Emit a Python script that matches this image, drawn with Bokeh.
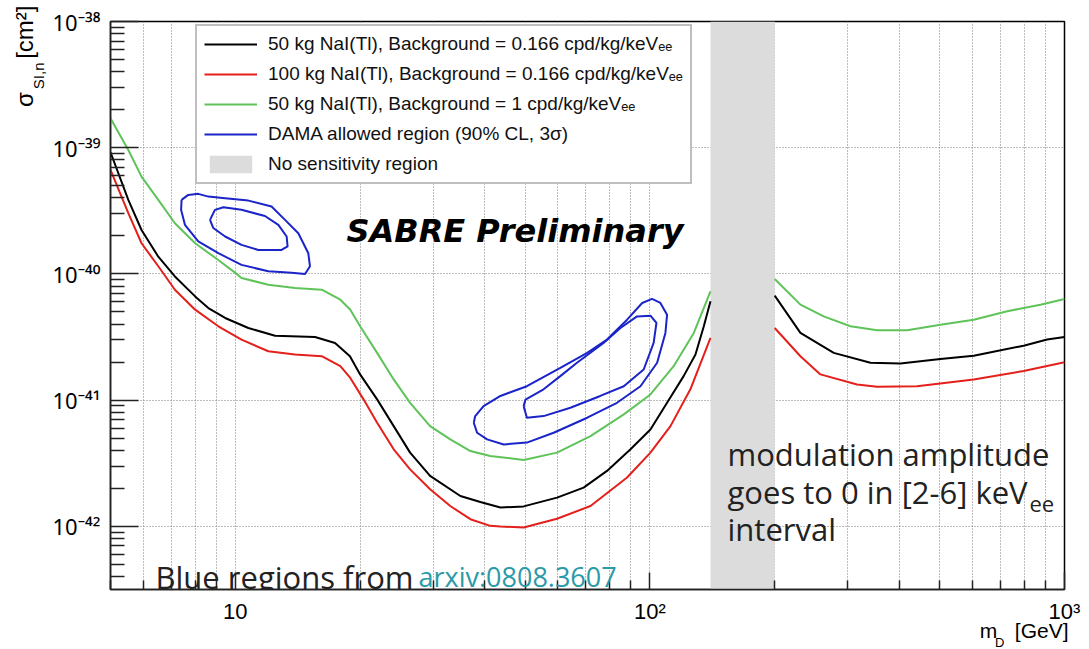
import math
from bokeh.plotting import figure
from bokeh.models import (Range1d, FixedTicker, CustomJSTickFormatter, Legend,
                          LegendItem, Label, Title)
from bokeh.embed import file_html
from bokeh.resources import INLINE

# ---------------- data ----------------
# 50 kg NaI(Tl), background 0.166 cpd/kg/keVee
black_x_lo = [5.0, 5.52, 5.94, 6.52, 7.15, 8.0, 8.61, 9.45, 10.75, 12.47, 15.57, 17.4, 18.9,
              20.0, 22.0, 24.1, 26.4, 29.5, 34.9, 39.0, 43.6, 49.6, 59.7, 69.2, 78.8, 89.8,
              100.3, 110, 120.6, 128.8, 134.9, 140]
black_y_lo = [9.2e-40, 3.86e-40, 2.23e-40, 1.37e-40, 9.55e-41, 6.64e-41, 5.37e-41, 4.48e-41,
              3.73e-41, 3.24e-41, 3.17e-41, 2.84e-41, 2.23e-41, 1.60e-41, 1.01e-41, 6.23e-42,
              3.84e-42, 2.51e-42, 1.74e-42, 1.56e-42, 1.41e-42, 1.44e-42, 1.69e-42, 2.03e-42,
              2.75e-42, 4.08e-42, 5.86e-42, 9.53e-42, 1.55e-41, 2.30e-41, 3.85e-41, 6.07e-41]
black_x_hi = [200, 230.7, 277.6, 340.4, 402, 502, 604, 797, 908, 1000]
black_y_hi = [6.73e-41, 3.41e-41, 2.37e-41, 1.98e-41, 1.95e-41, 2.12e-41, 2.25e-41, 2.70e-41,
              3.02e-41, 3.17e-41]

# 100 kg NaI(Tl), background 0.166 cpd/kg/keVee
red_x_lo = [5.0, 5.52, 5.94, 6.52, 7.15, 8.0, 9.10, 10.35, 12.01, 13.93, 16.16, 17.92, 18.94,
            20.4, 21.98, 24.1, 26.4, 29.5, 33.0, 36.9, 41.2, 43.6, 49.6, 59.7, 71.9, 88.1,
            100.3, 112.1, 125.2, 140]
red_y_lo = [6.67e-40, 3.03e-40, 1.75e-40, 1.15e-40, 7.50e-41, 5.21e-41, 3.85e-41, 3.02e-41,
            2.44e-41, 2.30e-41, 2.23e-41, 1.86e-41, 1.50e-41, 1.01e-41, 6.62e-42, 4.08e-42,
            2.83e-42, 1.97e-42, 1.45e-42, 1.14e-42, 1.01e-42, 9.97e-43, 9.8e-43, 1.15e-42,
            1.45e-42, 2.44e-42, 3.84e-42, 6.23e-42, 1.22e-41, 3.11e-41]
red_x_hi = [200, 230.7, 257.8, 316, 353.3, 441, 604, 797, 1000]
red_y_hi = [3.73e-41, 2.23e-41, 1.60e-41, 1.33e-41, 1.28e-41, 1.29e-41, 1.46e-41, 1.70e-41,
            2.00e-41]

# 50 kg NaI(Tl), background 1 cpd/kg/keVee
green_x_lo = [5.0, 5.52, 5.94, 6.52, 7.15, 8.0, 9.10, 10.0, 10.35, 12.01, 13.93, 16.16, 17.92,
              18.94, 20.0, 21.98, 24.1, 26.4, 29.5, 33.0, 36.9, 41.2, 49.6, 59.7, 71.9, 86.5,
              100.3, 114.1, 127.6, 140]
green_y_lo = [1.71e-39, 9.6e-40, 5.90e-40, 3.86e-40, 2.52e-40, 1.75e-40, 1.29e-40, 1.02e-40,
              9.29e-41, 8.22e-41, 7.74e-41, 7.50e-41, 6.25e-41, 5.21e-41, 3.85e-41, 2.37e-41,
              1.46e-41, 9.53e-42, 6.23e-42, 4.89e-42, 3.95e-42, 3.61e-42, 3.36e-42, 3.84e-42,
              5.19e-42, 7.71e-42, 1.11e-41, 1.86e-41, 3.41e-41, 7.28e-41]
green_x_hi = [200, 230.7, 262.6, 304.6, 353.3, 417.4, 502, 604, 727.5, 875, 1000]
green_y_hi = [9.12e-41, 5.71e-41, 4.61e-41, 3.85e-41, 3.58e-41, 3.58e-41, 3.96e-41, 4.34e-41,
              5.06e-41, 5.71e-41, 6.34e-41]

# DAMA allowed regions (90% CL and 3 sigma contours)
dama_low_out_x = [7.42, 7.70, 8.14, 8.61, 9.45, 10.75, 12.23, 13.18, 14.19, 15.0, 15.14, 14.73,
                  13.67, 12.01, 10.35, 9.10, 8.14, 7.56, 7.40]
dama_low_out_y = [3.86e-40, 4.23e-40, 4.31e-40, 4.10e-40, 3.98e-40, 3.81e-40, 3.42e-40, 2.68e-40,
                  2.10e-40, 1.46e-40, 1.15e-40, 1.00e-40, 1.02e-40, 1.05e-40, 1.18e-40, 1.46e-40,
                  1.81e-40, 2.45e-40, 3.22e-40]
dama_low_in_x = [8.69, 8.93, 9.36, 10.35, 11.79, 12.70, 13.30, 13.37, 12.93, 11.36, 10.35, 9.45,
                 8.85]
dama_low_in_y = [2.68e-40, 3.22e-40, 3.38e-40, 3.22e-40, 2.88e-40, 2.45e-40, 1.98e-40, 1.65e-40,
                 1.55e-40, 1.55e-40, 1.70e-40, 1.98e-40, 2.31e-40]
dama_high_out_x = [37.6, 37.9, 39.7, 43.6, 50.5, 60.8, 70.6, 78.8, 88.1, 95.8, 101.2, 106, 110,
                   109, 104.1, 94.9, 83.3, 70.6, 58.6, 50.5, 44.4, 40.5, 38.3]
dama_high_out_y = [6.62e-42, 7.48e-42, 8.97e-42, 1.08e-41, 1.29e-41, 1.80e-41, 2.37e-41,
                   3.02e-41, 4.34e-41, 5.89e-41, 6.34e-41, 5.89e-41, 4.75e-41, 3.41e-41,
                   1.98e-41, 1.29e-41, 9.53e-42, 7.26e-42, 5.52e-42, 4.61e-42, 4.46e-42,
                   4.89e-42, 5.52e-42]
dama_high_in_x = [49.6, 50.1, 55.4, 60.8, 66.7, 77.3, 84.9, 93.1, 100.3, 103.7, 102.1, 96.6,
                  86.5, 75.9, 64.3, 55.4, 50.5]
dama_high_in_y = [8.97e-42, 1.01e-41, 1.22e-41, 1.55e-41, 1.98e-41, 2.84e-41, 3.73e-41,
                  4.61e-41, 4.67e-41, 4.09e-41, 2.84e-41, 1.75e-41, 1.29e-41, 1.08e-41,
                  8.71e-42, 7.48e-42, 7.26e-42]

# No-sensitivity mass window [GeV]
band_lo = [140]
band_hi = [200]

x_major = [10, 100, 1000]
y_major = [1e-42, 1e-41, 1e-40, 1e-39, 1e-38]

legend_labels = [
    "50 kg NaI(Tl), Background = 0.166 cpd/kg/keV\u2091\u2091",
    "100 kg NaI(Tl), Background = 0.166 cpd/kg/keV\u2091\u2091",
    "50 kg NaI(Tl), Background = 1 cpd/kg/keV\u2091\u2091",
    "DAMA allowed region (90% CL, 3\u03c3)",
    "No sensitivity region",
]

# ---------------- figure ----------------
X0, X1 = 5, 1000
Y0, Y1 = 10 ** -42.5, 1e-38

p = figure(width=1089, height=649, x_axis_type="log", y_axis_type="log",
           x_range=Range1d(X0, X1), y_range=Range1d(Y0, Y1),
           output_backend="svg", toolbar_location=None,
           min_border_left=110, min_border_right=25, min_border_top=21,
           min_border_bottom=58)
p.background_fill_color = "white"
p.border_fill_color = "white"
p.outline_line_color = "black"
p.outline_line_width = 1.5

x_minor = [k * 10 ** e for e in range(0, 3) for k in range(2, 10) if X0 <= k * 10 ** e <= X1]
y_minor = [k * 10.0 ** e for e in range(-43, -38) for k in range(2, 10) if Y0 <= k * 10.0 ** e <= Y1]
xt = FixedTicker(ticks=x_major, minor_ticks=x_minor)
yt = FixedTicker(ticks=y_major, minor_ticks=y_minor)
p.xaxis.ticker = xt
p.yaxis.ticker = yt
p.xgrid.ticker = xt
p.ygrid.ticker = yt

fmt_code = """
const e = Math.round(Math.log10(tick));
if (e == 1) { return "10"; }
const m = {"-":"\u207b","0":"\u2070","1":"\u00b9","2":"\u00b2","3":"\u00b3","4":"\u2074",
           "5":"\u2075","6":"\u2076","7":"\u2077","8":"\u2078","9":"\u2079"};
return "10" + String(e).split("").map(c => m[c]).join("");
"""
p.xaxis.formatter = CustomJSTickFormatter(code=fmt_code)
p.yaxis.formatter = CustomJSTickFormatter(code=fmt_code)

for ax in (p.xaxis, p.yaxis):
    ax.axis_line_color = "#222222"
    ax.axis_line_width = 1.5
    ax.major_tick_line_color = "#222222"
    ax.minor_tick_line_color = "#222222"
    ax.major_tick_line_width = 1.5
    ax.minor_tick_line_width = 1.5
    ax.major_tick_out = 0
    ax.minor_tick_out = 0
    ax.major_label_text_font_size = "22px"
    ax.major_label_text_color = "black"
p.xaxis.major_label_text_font = "Liberation Sans"
p.yaxis.major_label_text_font = "Noto Sans"
p.xaxis.major_tick_in = 17
p.xaxis.minor_tick_in = 9
p.yaxis.major_tick_in = 28
p.yaxis.minor_tick_in = 14
p.xaxis.major_label_standoff = 9
p.yaxis.major_label_standoff = 10

for g in (p.xgrid, p.ygrid):
    g.grid_line_color = "#7a7a7a"
    g.grid_line_dash = "1 2"
    g.grid_line_width = 1
p.xgrid.minor_grid_line_color = "#7a7a7a"
p.xgrid.minor_grid_line_dash = "1 2"
p.xgrid.minor_grid_line_width = 1
p.ygrid.minor_grid_line_color = None

# ---------------- glyphs ----------------
band = p.quad(left=band_lo, right=band_hi, bottom=[Y0], top=[Y1],
              fill_color="#dcdcdc", line_color=None)

r_black = p.multi_line(xs=[black_x_lo, black_x_hi], ys=[black_y_lo, black_y_hi],
                       line_color="black", line_width=2)
r_red = p.multi_line(xs=[red_x_lo, red_x_hi], ys=[red_y_lo, red_y_hi],
                     line_color="#e3201b", line_width=2)
r_green = p.multi_line(xs=[green_x_lo, green_x_hi], ys=[green_y_lo, green_y_hi],
                       line_color="#5fc35a", line_width=2)

def closed(v):
    return list(v) + [v[0]]

r_blue = p.multi_line(
    xs=[closed(dama_low_out_x), closed(dama_low_in_x), closed(dama_high_out_x), closed(dama_high_in_x)],
    ys=[closed(dama_low_out_y), closed(dama_low_in_y), closed(dama_high_out_y), closed(dama_high_in_y)],
    line_color="#1a24c8", line_width=2)

legend = Legend(items=[
    LegendItem(label=legend_labels[0], renderers=[r_black]),
    LegendItem(label=legend_labels[1], renderers=[r_red]),
    LegendItem(label=legend_labels[2], renderers=[r_green]),
    LegendItem(label=legend_labels[3], renderers=[r_blue]),
    LegendItem(label=legend_labels[4], renderers=[band]),
])
legend.location = (85, 405)
legend.label_text_font = "Liberation Sans"
legend.label_text_font_size = "19px"
legend.label_text_color = "#111111"
legend.glyph_width = 53
legend.glyph_height = 22
legend.label_height = 22
legend.spacing = 8
legend.padding = 7
legend.margin = 0
legend.label_standoff = 11
legend.border_line_color = "#7f7f7f"
legend.border_line_width = 2
legend.background_fill_color = "white"
legend.background_fill_alpha = 1
p.add_layout(legend)

# ---------------- texts inside the frame ----------------
def lab(x, y, text, size, font="Open Sans", color="black", style="normal"):
    p.add_layout(Label(x=x, y=y, x_units="screen", y_units="screen", text=text,
                       text_font=font, text_font_size=size, text_color=color,
                       text_font_style=style, text_align="left",
                       text_baseline="alphabetic"))

lab(236, 359, "SABRE Preliminary", "32px", font="DejaVu Sans", style="bold italic")
lab(617, 136, "modulation amplitude", "31px", color="#222222")
lab(617, 98, "goes to 0 in [2-6] keV", "31px", color="#222222")
lab(919, 86, "ee", "22px", color="#222222")
lab(617, 61, "interval", "31px", color="#222222")
lab(45, 13, "Blue regions from", "31px", color="#222222")
lab(308, 13, "arxiv:0808.3607", "27px", color="#2a9aa8")

# ---------------- axis titles (side panels) ----------------
def side_title(side, text, size, align, valign, offset, standoff):
    t = Title(text=text, align=align, vertical_align=valign, offset=offset,
              text_font="Liberation Sans", text_font_size=size,
              text_font_style="normal", text_color="black")
    try:
        t.standoff = standoff
    except Exception:
        t.standoff = 0
    p.add_layout(t, side)

NB = "\u00a0"
# y title: sigma_{SI,n} [cm^2]
side_title("left", "SI,n", "15px", "right", "top", 41, 2)
side_title("left", "\u03c3" + NB * 5 + "[cm\u00b2]", "24px", "right", "top", -16, -22)
# x title: m_D [GeV]
side_title("below", "m" + NB * 3 + "[GeV]", "21px", "right", "top", -4, -15)
side_title("below", "D", "13px", "right", "top", 60, -4)

open("out.html", "w").write(file_html(p, INLINE))
